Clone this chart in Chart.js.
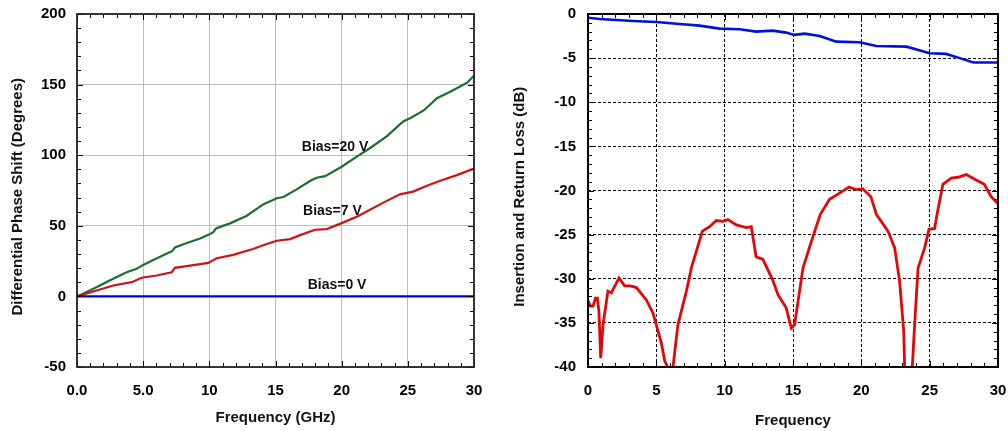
<!DOCTYPE html>
<html>
<head>
<meta charset="utf-8">
<script src="https://cdn.jsdelivr.net/npm/chart.js@4.4.0/dist/chart.umd.min.js"></script>
<style>
  body { margin: 0; background: #fff; }
  #wrap { position: relative; width: 1008px; height: 431px; }
  #phaseChart { position: absolute; left: 0; top: 0; }
  #lossChart { position: absolute; left: 500px; top: 0; }
</style>
</head>
<body>
<div id="wrap">
  <canvas id="phaseChart" width="500" height="431"></canvas>
  <canvas id="lossChart" width="508" height="431"></canvas>
</div>
<script>
// left panel: differential phase shift vs frequency (GHz)
const bias20Freq = [0, 0.5, 1.5, 2.5, 3.75, 4.5, 5.0, 6.0, 7.0, 7.2, 7.4, 8.3, 9.3, 10.05, 10.3, 10.5, 11.6, 12.8, 14.1, 15.1, 15.6, 16.6, 17.6, 18.1, 18.75, 20.0, 21.0, 22.15, 23.4, 24.65, 25.2, 26.2, 27.2, 28.2, 28.95, 29.5, 30];
const bias20Phase = [0, 2, 6.6, 11.5, 17.1, 19.5, 22.3, 26.8, 31.2, 32, 34.7, 37.8, 41, 44.1, 45.5, 48.1, 51.9, 57, 65.3, 69.5, 70.4, 75.8, 81.7, 84, 85.2, 91.8, 98.1, 105.1, 113.4, 123.9, 126.3, 131.7, 140.4, 145, 148.6, 151.5, 156.3];

const bias7Freq = [0, 1.23, 2.75, 4.13, 4.89, 6.02, 7.16, 7.4, 8.54, 9.3, 9.92, 10.56, 11.8, 13.3, 14.34, 15.1, 16.1, 16.86, 17.99, 18.87, 20.0, 21.27, 21.64, 23.15, 24.4, 25.4, 26.4, 27.4, 28.7, 30];
const bias7Phase = [0, 3.5, 7.7, 10.1, 13.2, 14.8, 17.1, 20.2, 21.8, 22.8, 23.7, 27, 29.4, 33.6, 37.1, 39.4, 40.6, 43.4, 47.2, 47.7, 51.9, 57, 58.9, 66.4, 72.3, 74.2, 78.2, 81.7, 85.9, 90.6];

const bias0Freq = [0, 30];
const bias0Phase = [0, 0];

// right panel: insertion / return loss (dB) vs frequency
const ilFreq = [0, 0.86, 3.3, 5.0, 6.7, 8.17, 9.63, 11.1, 12.3, 13.5, 14.5, 15.1, 15.85, 16.95, 18.17, 19.87, 21.1, 23.3, 25.0, 26.2, 27.2, 28.2, 30];
const ilLoss = [-0.42, -0.57, -0.79, -0.9, -1.13, -1.32, -1.66, -1.73, -2.0, -1.89, -2.11, -2.37, -2.23, -2.49, -3.13, -3.2, -3.62, -3.7, -4.45, -4.52, -5.0, -5.5, -5.5];

const rlFreq = [0, 0.18, 0.37, 0.54, 0.69, 0.8, 0.93, 1.1, 1.46, 1.71, 2.27, 2.68, 3.1, 3.54, 4.27, 4.76, 5.12, 5.37, 5.61, 5.85, 6.05, 6.22, 6.58, 7.2, 7.56, 8.37, 8.9, 9.39, 9.87, 10.24, 10.86, 11.59, 11.95, 12.3, 12.8, 13.5, 13.9, 14.5, 14.88, 15.12, 15.73, 16.34, 17.0, 17.68, 18.4, 19.1, 19.6, 20.1, 20.7, 21.1, 21.95, 22.44, 22.8, 23.1, 23.17, 23.45, 23.73, 23.9, 24.15, 24.63, 24.95, 25.36, 25.6, 25.97, 26.58, 27.07, 27.68, 28.4, 29.0, 29.5, 30];
const rlLoss = [-32.5, -33.1, -33.1, -32.2, -32.2, -33.7, -39.0, -35.2, -31.4, -31.6, -29.9, -30.8, -30.8, -31.0, -32.4, -33.9, -35.9, -37.3, -39.3, -40.1, -44, -40, -35.2, -31.4, -28.8, -24.6, -24.1, -23.4, -23.5, -23.3, -23.9, -24.2, -24.1, -27.5, -27.8, -30.1, -31.8, -33.3, -35.6, -35.2, -28.8, -25.8, -22.7, -21.0, -20.3, -19.6, -19.9, -19.8, -20.7, -22.7, -24.6, -26.5, -30.3, -35.9, -40, -48, -40, -35.2, -28.8, -26.5, -24.4, -24.3, -22.2, -19.3, -18.6, -18.5, -18.2, -18.8, -19.3, -20.7, -21.5];

const biasLabels = [
  {text: 'Bias=20 V', x: 19.5, y: 105.6},
  {text: 'Bias=7 V', x: 19.3, y: 60.6},
  {text: 'Bias=0 V', x: 19.65, y: 8.2}
];

const FONT = '"Liberation Sans", Arial, sans-serif';
const toPoints = (xs, ys) => xs.map((x, i) => ({x: x, y: ys[i]}));

// frame + inward tick marks + text labels
const frameTicks = {
  id: 'frameTicks',
  afterDatasetsDraw(chart, args, opts) {
    const {ctx, chartArea: a, scales: {x, y}} = chart;
    ctx.save();
    ctx.strokeStyle = '#000';
    ctx.lineWidth = 1;
    ctx.beginPath();
    for (let v = x.min; v <= x.max + 1e-9; v += opts.xStep) {
      const px = Math.round(x.getPixelForValue(v)) + 0.5;
      const len = Math.abs(v % opts.xMajor) < 1e-6 ? opts.majorLen : opts.minorLen;
      ctx.moveTo(px, a.bottom); ctx.lineTo(px, a.bottom - len);
      ctx.moveTo(px, a.top); ctx.lineTo(px, a.top + len);
    }
    for (let v = y.min; v <= y.max + 1e-9; v += opts.yStep) {
      const py = Math.round(y.getPixelForValue(v)) + 0.5;
      const len = Math.abs(v % opts.yMajor) < 1e-6 ? opts.majorLen : opts.minorLen;
      ctx.moveTo(a.left, py); ctx.lineTo(a.left + len, py);
      ctx.moveTo(a.right, py); ctx.lineTo(a.right - len, py);
    }
    ctx.stroke();
    ctx.lineWidth = opts.frameWidth;
    ctx.strokeStyle = opts.frameColor;
    ctx.strokeRect(a.left, a.top, a.right - a.left, a.bottom - a.top);

    ctx.font = 'bold 14px ' + FONT;
    ctx.fillStyle = '#111';
    ctx.textAlign = 'center';
    ctx.textBaseline = 'middle';
    (opts.labels || []).forEach(l => {
      ctx.fillText(l.text, x.getPixelForValue(l.x), y.getPixelForValue(l.y));
    });
    ctx.restore();
  }
};

const tickFont = {family: FONT, size: 15, weight: 'bold'};
const titleFont = {family: FONT, size: 15, weight: 'bold'};

// fixed axis sizes so the plot boxes land where the reference has them
const fitX = s => { s.height = 64; s.paddingLeft = 0; s.paddingRight = 0; };
const fitY = w => s => { s.width = w; s.paddingTop = 0; s.paddingBottom = 0; };

new Chart(document.getElementById('phaseChart'), {
  type: 'line',
  data: {
    datasets: [
      {data: toPoints(bias0Freq, bias0Phase), borderColor: '#0000cc', borderWidth: 2.2},
      {data: toPoints(bias7Freq, bias7Phase), borderColor: '#cc1414', borderWidth: 2.2},
      {data: toPoints(bias20Freq, bias20Phase), borderColor: '#17702c', borderWidth: 2.2}
    ]
  },
  options: {
    responsive: false,
    animation: false,
    parsing: false,
    elements: {point: {radius: 0}, line: {tension: 0}},
    layout: {padding: {top: 14, right: 26, left: 0, bottom: 0}},
    plugins: {
      legend: {display: false},
      tooltip: {enabled: false},
      frameTicks: {xStep: 1, xMajor: 5, yStep: 10, yMajor: 50, minorLen: 4, majorLen: 6,
                   frameWidth: 1.8, frameColor: '#222', labels: biasLabels}
    },
    scales: {
      x: {
        type: 'linear', min: 0, max: 30,
        ticks: {stepSize: 5, color: '#000', font: tickFont, padding: 15,
                callback: v => v < 10 ? v.toFixed(1) : String(v)},
        grid: {color: '#bdbdbd', lineWidth: 1, drawTicks: false},
        border: {display: false},
        title: {display: true, text: 'Frequency (GHz)', color: '#111', font: titleFont,
                padding: {top: 0, bottom: 4}},
        afterFit: fitX
      },
      y: {
        type: 'linear', min: -50, max: 200,
        ticks: {stepSize: 50, color: '#000', font: tickFont, padding: 11},
        grid: {color: '#bdbdbd', lineWidth: 1, drawTicks: false},
        border: {display: false},
        title: {display: true, text: 'Differential Phase Shift (Degrees)   ', color: '#111',
                font: titleFont, padding: {top: 9, bottom: 0}},
        afterFit: fitY(77)
      }
    }
  },
  plugins: [frameTicks]
});

new Chart(document.getElementById('lossChart'), {
  type: 'line',
  data: {
    datasets: [
      {data: toPoints(ilFreq, ilLoss), borderColor: '#0010dd', borderWidth: 2.6},
      {data: toPoints(rlFreq, rlLoss), borderColor: '#e00808', borderWidth: 2.8}
    ]
  },
  options: {
    responsive: false,
    animation: false,
    parsing: false,
    elements: {point: {radius: 0}, line: {tension: 0}},
    layout: {padding: {top: 14, right: 10, left: 0, bottom: 0}},
    plugins: {
      legend: {display: false},
      tooltip: {enabled: false},
      frameTicks: {xStep: 1, xMajor: 5, yStep: 1, yMajor: 5, minorLen: 4, majorLen: 6,
                   frameWidth: 2, frameColor: '#000'}
    },
    scales: {
      x: {
        type: 'linear', min: 0, max: 30,
        ticks: {stepSize: 5, color: '#000', font: tickFont, padding: 15},
        grid: {color: '#000', lineWidth: 1, drawTicks: false},
        border: {display: false, dash: [3, 2]},
        title: {display: true, text: 'Frequency', color: '#111', font: titleFont,
                padding: {top: 0, bottom: 1}},
        afterFit: fitX
      },
      y: {
        type: 'linear', min: -40, max: 0,
        ticks: {stepSize: 5, color: '#000', font: tickFont, padding: 12},
        grid: {color: '#000', lineWidth: 1, drawTicks: false},
        border: {display: false, dash: [3, 2]},
        title: {display: true, text: 'Insertion and Return Loss (dB)   ', color: '#111',
                font: titleFont, padding: {top: 11, bottom: 0}},
        afterFit: fitY(88)
      }
    }
  },
  plugins: [frameTicks]
});
</script>
</body>
</html>
